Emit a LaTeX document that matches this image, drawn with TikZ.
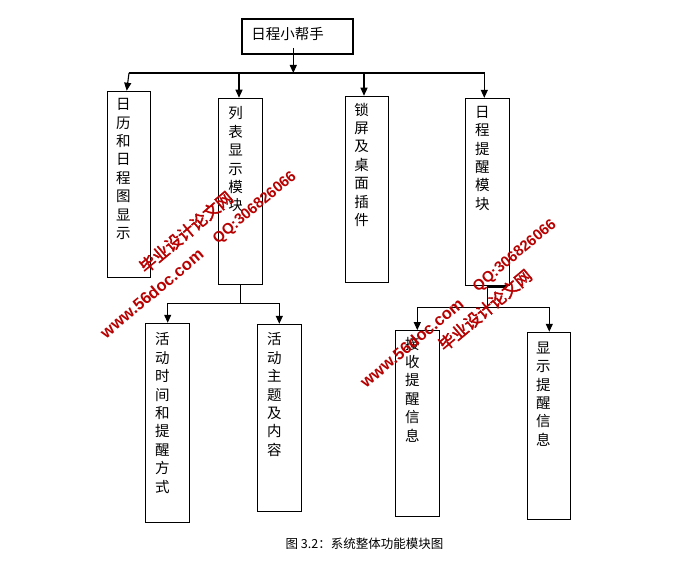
\documentclass[tikz,border=0pt]{standalone}
\usepackage{fontspec}
\newfontfamily\cjk{Noto Sans CJK SC}
\newfontfamily\wmcjk[FakeBold=2.5]{Noto Sans CJK SC}
\newfontfamily\wmlat{Liberation Sans}
\usetikzlibrary{arrows.meta}
\begin{document}
\begin{tikzpicture}[x=1pt,y=-1pt,
  box/.style={draw,line width=1.1pt,inner sep=0pt},
  conn/.style={line width=1.1pt},
  arr/.style={line width=1.1pt,-{Triangle[length=8pt,width=7pt]}},
  vtext/.style={font=\cjk\fontsize{14.5pt}{18.4pt}\selectfont,align=center,inner sep=0pt,anchor=north},
  wmbase/.style={text=red!72!black,inner sep=0pt,rotate=40},
  wmcn/.style={wmbase,font=\wmcjk\fontsize{16.5pt}{17pt}\selectfont},
  wmqq/.style={wmbase,font=\wmlat\bfseries\fontsize{15pt}{16pt}\selectfont},
  wmurl/.style={wmbase,font=\wmlat\bfseries\fontsize{16.5pt}{17pt}\selectfont}]
\fill[white] (0,0) rectangle (677,569);
\useasboundingbox (0,0) rectangle (677,569);

% boxes
\node[box,minimum width=111pt,minimum height=35pt] (b0) at (297.5,36.5) {};
\node[box,minimum width=43.4pt,minimum height=186pt] (b1) at (129,184.3) {};
\node[box,minimum width=43.6pt,minimum height=186pt] (b2) at (240.5,191.3) {};
\node[box,minimum width=42.6pt,minimum height=186pt] (b3) at (367,189.3) {};
\node[box,minimum width=43.6pt,minimum height=187pt] (b4) at (487.5,191.9) {};
\node[box,minimum width=44pt,minimum height=199pt] (b5) at (167.3,422.8) {};
\node[box,minimum width=44pt,minimum height=186.7pt] (b6) at (279.3,417.7) {};
\node[box,minimum width=44pt,minimum height=185.6pt] (b7) at (417.3,423.5) {};
\node[box,minimum width=43pt,minimum height=187pt] (b8) at (548.8,425.8) {};

% texts
\node[font=\cjk\fontsize{14.5pt}{16pt}\selectfont,inner sep=0pt,anchor=west] (t0) at (251.2,34.5) {日程小帮手};
\node[vtext] (t1) at (123.3,98.3) {日\\历\\和\\日\\程\\图\\显\\示};
\node[vtext] (t2) at (235.7,106.6) {列\\表\\显\\示\\模\\块};
\node[vtext] (t3) at (361.7,102.6) {锁\\屏\\及\\桌\\面\\插\\件};
\node[vtext] (t4) at (482.3,106) {日\\程\\提\\醒\\模\\块};
\node[vtext] (t5) at (162.3,332.6) {活\\动\\时\\间\\和\\提\\醒\\方\\式};
\node[vtext] (t6) at (274.3,332.6) {活\\动\\主\\题\\及\\内\\容};
\node[vtext] (t7) at (412.3,336.7) {接\\收\\提\\醒\\信\\息};
\node[vtext] (t8) at (543.3,341.6) {显\\示\\提\\醒\\信\\息};

% level 1 connectors
\coordinate (s0) at (293.3,48);
\coordinate (j0) at (293.3,73);
\coordinate (jL) at (129,73);
\coordinate (jR) at (485,73);
\coordinate (a2) at (239,73);
\coordinate (a3) at (364,73);
\coordinate (a4) at (484.3,73);
\draw[arr] (s0) -- (j0);
\draw[conn] (jL) -- (jR);
\draw[arr] (jL) -- ([xshift=-2.3pt]b1.north);
\draw[arr] (a2) -- (a2 |- b2.north);
\draw[arr] (a3) -- (a3 |- b3.north);
\draw[arr] (a4) -- (a4 |- b4.north);

% list module children
\coordinate (k2) at (240.5,303.3);
\coordinate (k5) at (167.7,303.3);
\coordinate (k6) at (279.3,303.3);
\draw[conn] (b2.south) -- (k2);
\draw[conn] (k5) -- (k6);
\draw[arr] (k5) -- (k5 |- b5.north);
\draw[arr] (k6) -- (k6 |- b6.north);

% reminder module children
\coordinate (e4) at (506.5,287);
\coordinate (k4) at (487.2,307.3);
\coordinate (k7) at (417.3,307.3);
\coordinate (k8) at (549.3,307.3);
\draw[conn] (e4) -| (k4);
\draw[conn] (k7) -- (k8);
\draw[arr] (k7) -- (k7 |- b7.north);
\draw[arr] (k8) -- (k8 |- b8.north);

% caption
\node[font=\cjk\fontsize{12.5pt}{14pt}\selectfont,inner sep=0pt] (cap) at (364.5,544) {图 3.2：系统整体功能模块图};

% watermarks
\node[wmcn] (w1) at (186,232) {毕业设计论文网};
\node[wmqq] (w2) at (255,208) {QQ:306826066};
\node[wmurl] (w3) at (151.7,293.3) {www.56doc.com};
\node[wmurl] (w4) at (411.7,342.5) {www.56doc.com};
\node[wmqq] (w5) at (515,256) {QQ:306826066};
\node[wmcn] (w6) at (485,310) {毕业设计论文网};
\end{tikzpicture}
\end{document}
